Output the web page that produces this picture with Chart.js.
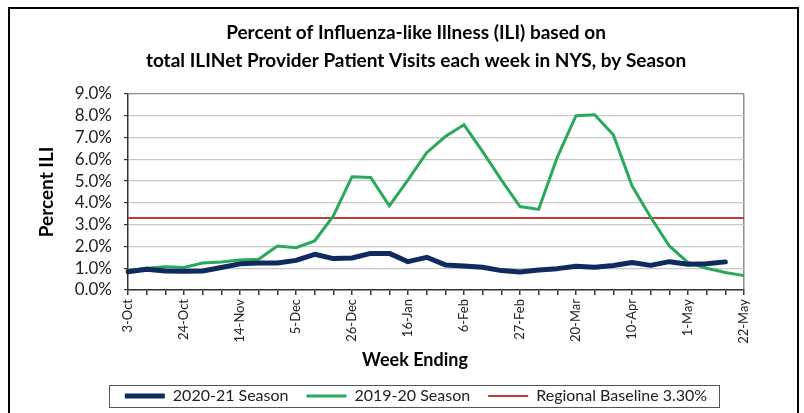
<!DOCTYPE html>
<html>
<head>
<meta charset="utf-8">
<script src="https://cdn.jsdelivr.net/npm/chart.js@4.4.1/dist/chart.umd.min.js"></script>
<style>
  body { margin: 0; background: #fff; }
  #wrap { position: relative; width: 804px; height: 413px; overflow: hidden; }
  #frame { position: absolute; left: 8px; top: 7px; width: 787px; height: 420px; border: 2px solid #000; }
  #wrap canvas { position: absolute; left: 0; top: 0; }
</style>
</head>
<body>
<div id="wrap">
  <div id="frame"></div>
  <canvas id="myChart" width="804" height="413"></canvas>
</div>
<script>
// week ending dates (2020-21 season)
const weeks = ['3-Oct', '10-Oct', '17-Oct', '24-Oct', '31-Oct', '7-Nov', '14-Nov', '21-Nov', '28-Nov',
  '5-Dec', '12-Dec', '19-Dec', '26-Dec', '2-Jan', '9-Jan', '16-Jan', '23-Jan', '30-Jan', '6-Feb',
  '13-Feb', '20-Feb', '27-Feb', '6-Mar', '13-Mar', '20-Mar', '27-Mar', '3-Apr', '10-Apr', '17-Apr',
  '24-Apr', '1-May', '8-May', '15-May', '22-May'];

// percent ILI per week
const season2021 = [0.84, 0.95, 0.87, 0.86, 0.87, 1.03, 1.2, 1.24, 1.24, 1.36, 1.64, 1.44, 1.47, 1.68,
  1.68, 1.3, 1.5, 1.15, 1.1, 1.04, 0.89, 0.83, 0.92, 0.98, 1.09, 1.04, 1.12, 1.26, 1.13, 1.3, 1.18,
  1.2, 1.29, null];
const season1920 = [0.9, 1.0, 1.07, 1.03, 1.24, 1.29, 1.38, 1.41, 2.02, 1.94, 2.25, 3.4, 5.2, 5.16,
  3.86, 5.05, 6.3, 7.04, 7.58, 6.35, 5.05, 3.83, 3.7, 6.1, 8.0, 8.04, 7.12, 4.78, 3.34, 2.02, 1.26,
  1.0, 0.8, 0.66];
const baseline = 3.3;

const FONT = 'Lato';

// box round the legend and the x axis title
const extras = {
  id: 'extras',
  afterDraw(chart) {
    const c = chart.ctx;
    const boxes = chart.legend.legendHitBoxes;
    c.save();
    if (boxes && boxes.length) {
      let l = Infinity, r = -Infinity, t = Infinity, b = -Infinity;
      boxes.forEach(h => {
        l = Math.min(l, h.left);
        r = Math.max(r, h.left + h.width);
        t = Math.min(t, h.top);
        b = Math.max(b, h.top + h.height);
      });
      c.strokeStyle = '#555';
      c.lineWidth = 1;
      c.strokeRect(Math.round(l - 16) + 0.5, Math.round(t - 3) + 0.5, Math.round(r - l + 28), Math.round(b - t + 6));
    }
    c.fillStyle = '#000';
    c.font = 'bold 18px ' + FONT;
    c.textAlign = 'center';
    c.textBaseline = 'middle';
    c.fillText('Week Ending', 415, 360);
    c.restore();
  }
};

let ctx = document.getElementById('myChart').getContext('2d');
let chart = new Chart(ctx, {
  type: 'line',
  data: {
    labels: weeks,
    datasets: [{
      label: '2020-21 Season',
      data: season2021,
      borderColor: '#0f2a5e',
      borderWidth: 5,
      borderCapStyle: 'round',
      borderJoinStyle: 'round',
      pointRadius: 0
    }, {
      label: '2019-20 Season',
      data: season1920,
      borderColor: '#29a95b',
      borderWidth: 3,
      pointRadius: 0
    }, {
      label: 'Regional Baseline 3.30%',
      data: weeks.map(() => baseline),
      borderColor: '#c0393b',
      borderWidth: 2,
      pointRadius: 0
    }]
  },
  options: {
    responsive: false,
    animation: false,
    layout: { padding: { left: 28, right: 0, top: 11, bottom: -1 } },
    plugins: {
      title: {
        display: true,
        text: ['Percent of Influenza-like Illness (ILI) based on',
          'total ILINet Provider Patient Visits each week in NYS, by Season'],
        color: '#000',
        font: { family: FONT, size: 19, weight: 'bold', lineHeight: 1.47 },
        padding: { top: 8, bottom: 19 }
      },
      legend: {
        position: 'bottom',
        labels: {
          usePointStyle: true,
          pointStyle: 'line',
          pointStyleWidth: 40,
          color: '#222',
          font: { family: FONT, size: 16 },
          padding: 18
        }
      },
      tooltip: { enabled: false }
    },
    scales: {
      x: {
        ticks: {
          autoSkip: false,
          minRotation: 90,
          maxRotation: 90,
          padding: 4,
          color: '#222',
          font: { family: FONT, size: 13 },
          callback: function(v, i) { return i % 3 === 0 ? weeks[i] : ''; }
        },
        grid: {
          color: c => c.index === weeks.length - 1 ? '#8c8c8c' : 'rgba(0,0,0,0)',
          lineWidth: 1.5,
          tickColor: '#333',
          tickLength: 5
        },
        border: { color: '#333', width: 1.5 },
        afterFit: s => { s.height = 80; }
      },
      y: {
        min: 0,
        max: 9,
        ticks: {
          stepSize: 1,
          autoSkip: false,
          padding: 12,
          color: '#222',
          font: { family: FONT, size: 17, lineHeight: 1 },
          callback: v => v.toFixed(1) + '%'
        },
        grid: {
          color: c => c.tick && c.tick.value === 9 ? '#8c8c8c' : '#c8c8c8',
          lineWidth: 1.2,
          tickColor: '#333',
          tickLength: 4
        },
        border: { color: '#333', width: 1.5 },
        title: {
          display: true,
          text: 'Percent ILI',
          color: '#000',
          font: { family: FONT, size: 19, weight: 'bold' },
          padding: { top: 7, bottom: 0 }
        },
        afterFit: s => { s.width = 100; }
      },
      // empty right side, keeps the plot narrower than the title and legend
      spacer: {
        type: 'linear',
        position: 'right',
        grid: { display: false },
        border: { display: false },
        ticks: { display: false },
        afterFit: s => { s.width = 60; }
      }
    }
  },
  plugins: [extras]
});
</script>
</body>
</html>
